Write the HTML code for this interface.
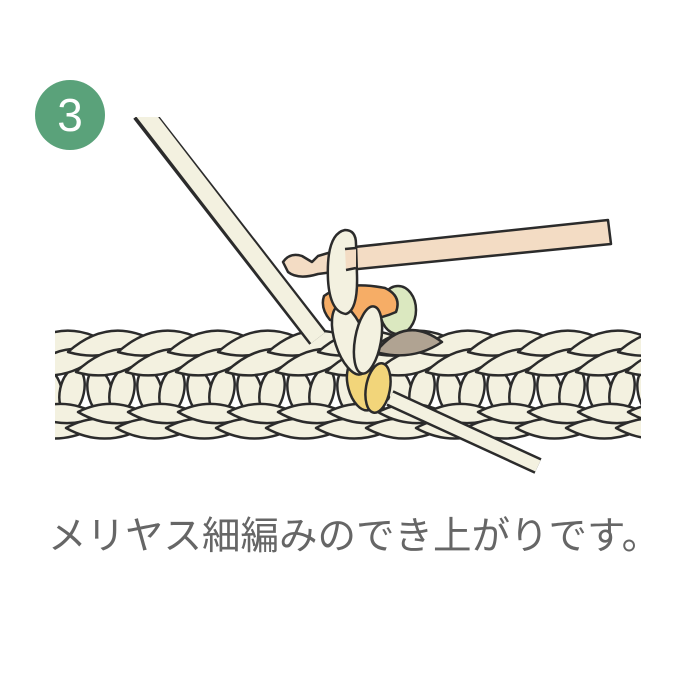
<!DOCTYPE html>
<html><head><meta charset="utf-8"><style>
html,body{margin:0;padding:0;background:#fff;}
body{width:700px;height:700px;overflow:hidden;position:relative;}
.t{position:absolute;left:48px;top:505px;font:38.5px "Liberation Sans","Noto Sans CJK JP",sans-serif;color:#666;white-space:nowrap;}
</style></head><body>
<svg width="700" height="700" viewBox="0 0 700 700" style="position:absolute;left:0;top:0">
<defs>
<clipPath id="c"><rect x="55" y="300" width="586" height="160"/></clipPath>
<g id="u" fill="#f3f1e0" stroke="#2b2b2b" stroke-width="2.5" stroke-linejoin="round">
  <ellipse cx="20" cy="392" rx="12" ry="23" transform="rotate(-12 20 392)"/>
  <ellipse cx="42" cy="391" rx="12" ry="23" transform="rotate(12 42 391)"/>
  <path d="M-14,428 Q22,408 60,430 Q22,448 -14,428Z"/>
  <path d="M-2,412 Q34,394 70,416 Q32,432 -2,412Z"/>
  <path d="M-12,352 Q24,320 64,336 Q30,364 -12,352Z"/>
  <path d="M-4,372 Q32,338 70,354 Q36,384 -4,372Z"/>
</g>
</defs>
<circle cx="70" cy="115" r="35" fill="#5aa27a"/>
<text x="70" y="131" text-anchor="middle" font-family="Liberation Sans,sans-serif" font-size="46" fill="#fff">3</text>
<g clip-path="url(#c)">
<use href="#u" x="30"/><use href="#u" x="80"/><use href="#u" x="130"/><use href="#u" x="180"/><use href="#u" x="230"/><use href="#u" x="280"/><use href="#u" x="330"/><use href="#u" x="380"/><use href="#u" x="430"/><use href="#u" x="480"/><use href="#u" x="530"/><use href="#u" x="580"/><use href="#u" x="630"/>
</g>
<!-- yarn strand -->
<line x1="142" y1="112" x2="318" y2="338" stroke="#2b2b2b" stroke-width="22"/>
<line x1="142" y1="110" x2="318" y2="338" stroke="#f3f1e0" stroke-width="17"/>
<rect x="125" y="100" width="40" height="17" fill="#fff"/>
<!-- tail -->
<line x1="390" y1="398" x2="538" y2="466" stroke="#2b2b2b" stroke-width="17"/>
<line x1="390" y1="398" x2="538" y2="466" stroke="#f3f1e0" stroke-width="12"/>
<g stroke="#2b2b2b" stroke-width="2.5" stroke-linejoin="round">
<ellipse cx="362" cy="385" rx="14" ry="26" fill="#f2d57a" transform="rotate(-15 362 385)"/>
<ellipse cx="378" cy="388" rx="12" ry="25" fill="#f2d57a" transform="rotate(10 378 388)"/>
<ellipse cx="398" cy="310" rx="18" ry="24" fill="#dbe8c0"/>
<path d="M376,352 Q405,314 442,342 Q412,362 376,352Z" fill="#b0a392"/>
<path d="M324,296 Q345,280 385,288 Q402,296 396,312 Q370,324 330,320 Q320,308 324,296Z" fill="#f6ad66"/>
<ellipse cx="350" cy="340" rx="15" ry="36" fill="#f3f1e0" transform="rotate(-18 350 340)"/>
<ellipse cx="368" cy="340" rx="13" ry="34" fill="#f3f1e0" transform="rotate(10 368 340)"/>
<!-- hook -->
<path d="M345,248 L608,220 L611,244 L348,270 L318,274 Q298,280 288,272 L283,262 Q290,252 302,256 L312,262 L318,256Z" fill="#f3dcc4"/>
<path d="M345,230 Q326,234 328,280 Q330,312 346,314 Q358,310 357,275 L356,244 Q356,230 345,230Z" fill="#f3f1e0"/>
<path d="M345,249 L356,248 L356,268 L346,270Z" fill="#f3dcc4" stroke="none"/>
<line x1="345" y1="249" x2="356" y2="248"/>
<line x1="346" y1="270" x2="356" y2="268"/>
</g>
</svg>
<div class="t">メリヤス細編みのでき上がりです。</div>
</body></html>
